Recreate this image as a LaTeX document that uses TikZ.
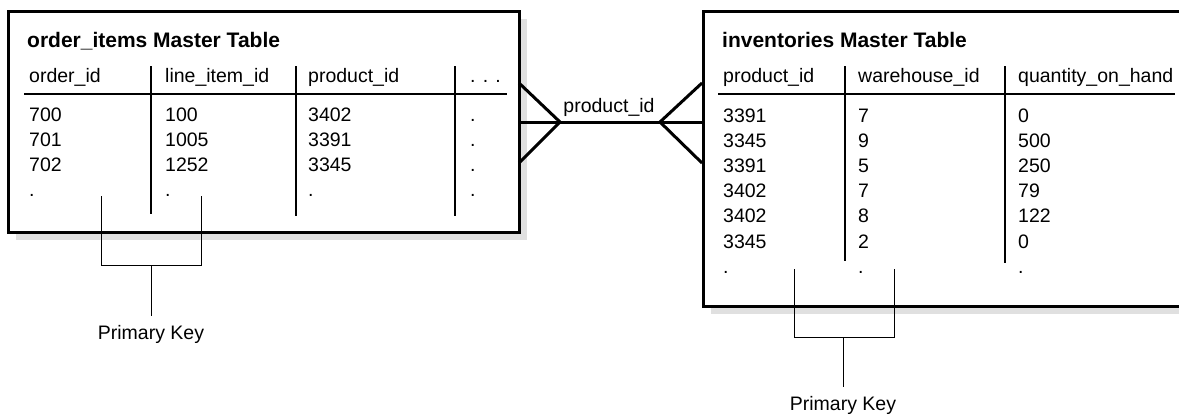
\documentclass[tikz,border=0pt]{standalone}
\usepackage{fontspec}
\setmainfont{Liberation Sans}
\usetikzlibrary{shadows}

\begin{document}
\begin{tikzpicture}[x=1pt, y=-1pt,
		cell/.style={anchor=base west, inner sep=0pt, font=\fontsize{19.5}{23}\selectfont},
		title/.style={cell, font=\fontsize{21}{25}\selectfont\bfseries},
		frame/.style={draw, fill=white, line width=2.5pt, anchor=north west, inner sep=0pt,
			drop shadow={shadow xshift=8pt, shadow yshift=-8pt, fill=black!12, opacity=1}},
		colsep/.style={line width=2pt},
		crow/.style={line width=3pt},
		keyline/.style={line width=0.9pt}]
		\useasboundingbox (0,0) rectangle (1179,415);
		\clip (0,0) rectangle (1179,415);
		
		\node[frame, minimum width=511pt, minimum height=221pt] (orders) at (7,10) {};
		\node[frame, minimum width=490pt, minimum height=295pt] (inventories) at (702,10) {};
		
		\node[title] (otitle) at (27,47) {order\_items Master Table};
		\node[title] (ititle) at (722,47) {inventories Master Table};
		
		\node[cell] (oh1) at (29,82) {order\_id};
		\node[cell] (oh2) at (165,82) {line\_item\_id};
		\node[cell] (oh3) at (308,82) {product\_id};
		\node[cell] (oh4) at (470,82) {. . .};
		\node[cell] (ih1) at (723,82) {product\_id};
		\node[cell] (ih2) at (858,82) {warehouse\_id};
		\node[cell] (ih3) at (1018,82) {quantity\_on\_hand};
		
		\draw[colsep] (24,94) -- (507,94);
		\draw[colsep] (718,94) -- (1175,94);
		\foreach \x/\yb in {151/214, 296/216, 455/216, 845/261, 1005/263}
			\draw[colsep] (\x,66) -- (\x,\yb);
		
		\foreach \a/\b/\c [count=\r] in {700/100/3402, 701/1005/3391, 702/1252/3345, ./././}
		{
			\node[cell] (o1-\r) at (29,95.7+25.3*\r) {\a};
			\node[cell] (o2-\r) at (165,95.7+25.3*\r) {\b};
			\node[cell] (o3-\r) at (308,95.7+25.3*\r) {\c};
			\node[cell] (o4-\r) at (470,95.7+25.3*\r) {.};
		}
		\foreach \a/\b/\c [count=\r] in {3391/7/0, 3345/9/500, 3391/5/250, 3402/7/79, 3402/8/122, 3345/2/0, ././.}
		{
			\node[cell] (i1-\r) at (723,96.8+25.2*\r) {\a};
			\node[cell] (i2-\r) at (858,96.8+25.2*\r) {\b};
			\node[cell] (i3-\r) at (1018,96.8+25.2*\r) {\c};
		}
		
		\coordinate (lfoot) at (560,122);
		\coordinate (rfoot) at (660,122);
		\coordinate (ltop) at (519,83);
		\coordinate (lbot) at (519,163);
		\coordinate (rtop) at (702,83);
		\coordinate (rbot) at (702,163);
		\draw[crow] (orders.east |- lfoot) -- (inventories.west |- rfoot);
		\draw[crow] (ltop) -- (lfoot) -- (lbot);
		\draw[crow] (rtop) -- (rfoot) -- (rbot);
		\node[cell, anchor=base] (fkey) at (609,112) {product\_id};
		
		\node[cell, anchor=base] (okey) at (151,339) {Primary Key};
		\coordinate (okeyA) at (101,196);
		\coordinate (okeyB) at (201,196);
		\coordinate (okeyM) at (151,265);
		\draw[keyline] (okeyA) -- ++(0,69) -| (okeyB);
		\draw[keyline] (okeyM) -- ([yshift=9pt]okey.north);
		
		\node[cell, anchor=base] (ikey) at (843,410) {Primary Key};
		\coordinate (ikeyA) at (794,269);
		\coordinate (ikeyB) at (894,269);
		\coordinate (ikeyM) at (843,337);
		\draw[keyline] (ikeyA) -- ++(0,68) -| (ikeyB);
		\draw[keyline] (ikeyM) -- ([yshift=9pt]ikey.north);
	\end{tikzpicture}
\end{document}
